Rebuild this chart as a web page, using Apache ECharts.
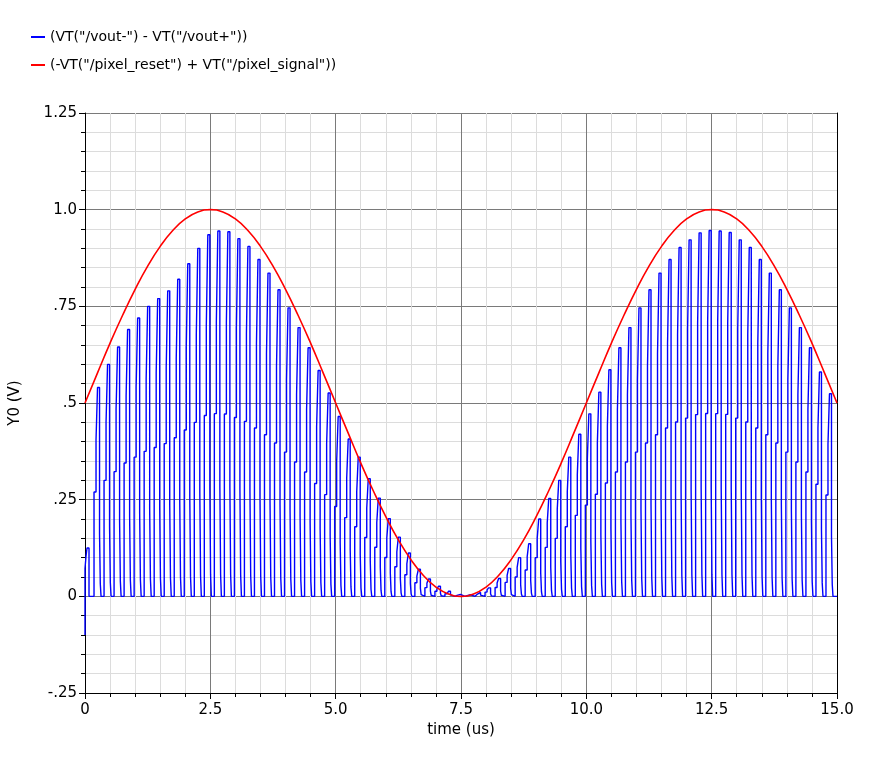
<!DOCTYPE html>
<html>
<head>
<meta charset="utf-8">
<script src="https://cdn.jsdelivr.net/npm/echarts@6/dist/echarts.min.js"></script>
<style>
html,body{margin:0;padding:0;background:#fff;}
#chart{width:877px;height:765px;}
</style>
</head>
<body>
<div id="chart"></div>
<script>
// ---- data ----
const seriesNames = ['(VT("/vout-") - VT("/vout+"))', '(-VT("/pixel_reset") + VT("/pixel_signal"))'];
const xTickLabels = ['0', '2.5', '5.0', '7.5', '10.0', '12.5', '15.0'];
const yTickValues = [-0.25, 0, 0.25, 0.5, 0.75, 1.0, 1.25];
const yTickLabels = ['-.25', '0', '.25', '.5', '.75', '1.0', '1.25'];

// red curve, sampled every 0.25 us from 0 to 15 us
const redTime = [0,0.25,0.5,0.75,1,1.25,1.5,1.75,2,2.25,2.5,2.75,3,3.25,3.5,3.75,4,4.25,4.5,4.75,5,5.25,5.5,5.75,6,6.25,6.5,6.75,7,7.25,7.5,7.75,8,8.25,8.5,8.75,9,9.25,9.5,9.75,10,10.25,10.5,10.75,11,11.25,11.5,11.75,12,12.25,12.5,12.75,13,13.25,13.5,13.75,14,14.25,14.5,14.75,15];
const redValue = [0.5,0.578,0.655,0.727,0.794,0.854,0.905,0.946,0.976,0.994,1.0,0.994,0.976,0.946,0.905,0.854,0.794,0.727,0.655,0.578,0.5,0.422,0.345,0.273,0.206,0.146,0.095,0.054,0.024,0.006,0.0,0.006,0.024,0.054,0.095,0.146,0.206,0.273,0.345,0.422,0.5,0.578,0.655,0.727,0.794,0.854,0.905,0.946,0.976,0.994,1.0,0.994,0.976,0.946,0.905,0.854,0.794,0.727,0.655,0.578,0.5];

// blue: initial transient (time, value)
const blueStart = [[0,-0.1],[0,0.072],[0.02,0.072],[0.02,0.103],[0.04,0.103],[0.04,0.125],[0.08,0.125],[0.08,0]];
// blue: pulse peak times (us) and peak values (V)
const pulseTime = [0.3,0.5,0.7,0.9,1.1,1.3,1.5,1.7,1.9,2.1,2.3,2.5,2.7,2.9,3.1,3.3,3.5,3.7,3.9,4.1,4.3,4.5,4.7,4.9,5.1,5.3,5.5,5.7,5.9,6.1,6.3,6.5,6.7,6.9,7.1,7.3,7.5,7.7,7.9,8.1,8.3,8.5,8.7,8.9,9.1,9.3,9.5,9.7,9.9,10.1,10.3,10.5,10.7,10.9,11.1,11.3,11.5,11.7,11.9,12.1,12.3,12.5,12.7,12.9,13.1,13.3,13.5,13.7,13.9,14.1,14.3,14.5,14.7,14.9];
const pulsePeak = [0.54,0.60,0.645,0.69,0.72,0.75,0.77,0.79,0.82,0.86,0.90,0.935,0.945,0.943,0.925,0.905,0.871,0.836,0.793,0.746,0.695,0.643,0.584,0.526,0.465,0.407,0.36,0.304,0.254,0.201,0.153,0.112,0.07,0.045,0.026,0.013,0.005,0.004,0.01,0.022,0.046,0.072,0.10,0.136,0.20,0.253,0.30,0.36,0.419,0.472,0.528,0.586,0.643,0.695,0.746,0.793,0.836,0.871,0.902,0.922,0.94,0.946,0.945,0.941,0.922,0.902,0.871,0.836,0.793,0.746,0.695,0.643,0.58,0.524];
// staircase shape of one pulse: [time offset from peak (us), fraction of peak]
const pulseShapeOffset = [-0.12,-0.08,-0.05,-0.01,0.005,0.02];
const pulseShapeLevel  = [0.5,0.75,1.0,0.3,0.06,0.0];

// ---- build series data ----
const blueData = blueStart.map(p => p.slice());
for (let k = 0; k < pulseTime.length; k++) {
  let prev = 0;
  for (let j = 0; j < pulseShapeOffset.length; j++) {
    const t = +(pulseTime[k] + pulseShapeOffset[j]).toFixed(4);
    const v = pulseShapeLevel[j] * pulsePeak[k];
    blueData.push([t, prev]);
    blueData.push([t, v]);
    prev = v;
  }
}
blueData.push([15, 0]);
const redData = redTime.map((t, i) => [t, redValue[i]]);

const FONT = 'DejaVu Sans';
const chart = echarts.init(document.getElementById('chart'), null, {renderer: 'canvas'});
chart.setOption({
  animation: false,
  backgroundColor: '#ffffff',
  textStyle: {fontFamily: FONT},
  legend: {
    orient: 'vertical',
    left: 26, top: 24,
    itemWidth: 14, itemHeight: 2, itemGap: 12,
    icon: 'rect',
    textStyle: {fontFamily: FONT, fontSize: 14, color: '#000', lineHeight: 16},
    data: seriesNames
  },
  grid: {left: 83, right: 40, top: 113, bottom: 72, containLabel: false},
  xAxis: {
    type: 'value', min: 0, max: 15, interval: 2.5,
    name: 'time (us)', nameLocation: 'middle', nameGap: 30,
    nameTextStyle: {fontFamily: FONT, fontSize: 15, color: '#000'},
    axisLine: {show: true, onZero: false, lineStyle: {color: '#000', width: 1}},
    axisTick: {show: true, length: 6, lineStyle: {color: '#000'}},
    minorTick: {show: true, splitNumber: 5, length: 4, lineStyle: {color: '#000'}},
    axisLabel: {fontFamily: FONT, fontSize: 15, color: '#000', margin: 10,
      formatter: v => xTickLabels[Math.round(v / 2.5)]},
    splitLine: {show: true, lineStyle: {color: '#7a7a7a', width: 1}},
    minorSplitLine: {show: true, lineStyle: {color: '#dcdcdc', width: 1}}
  },
  yAxis: [{
    type: 'value', min: -0.25, max: 1.25, interval: 0.25,
    name: 'Y0 (V)', nameLocation: 'middle', nameGap: 62, nameRotate: 90,
    nameTextStyle: {fontFamily: FONT, fontSize: 15, color: '#000'},
    axisLine: {show: true, onZero: false, lineStyle: {color: '#000', width: 1}},
    axisTick: {show: true, length: 6, lineStyle: {color: '#000'}},
    minorTick: {show: true, splitNumber: 5, length: 4, lineStyle: {color: '#000'}},
    axisLabel: {fontFamily: FONT, fontSize: 15, color: '#000', margin: 8,
      formatter: v => { const i = yTickValues.findIndex(x => Math.abs(x - v) < 1e-6); return i >= 0 ? yTickLabels[i] : ''; }},
    splitLine: {show: true, lineStyle: {color: '#7a7a7a', width: 1}},
    minorSplitLine: {show: true, lineStyle: {color: '#dcdcdc', width: 1}}
  }, {
    type: 'value', min: -0.25, max: 1.25, interval: 0.25, position: 'right',
    axisLine: {show: true, onZero: false, lineStyle: {color: '#000', width: 1}},
    axisTick: {show: false}, axisLabel: {show: false}, splitLine: {show: false}
  }],
  series: [{
    name: seriesNames[0], type: 'line', data: blueData,
    showSymbol: false, symbol: 'none', sampling: null, progressive: 0,
    lineStyle: {color: '#0000ff', width: 1.4}, itemStyle: {color: '#0000ff'}, z: 3
  }, {
    name: seriesNames[1], type: 'line', data: redData, smooth: true,
    showSymbol: false, symbol: 'none',
    lineStyle: {color: '#ff0000', width: 1.6}, itemStyle: {color: '#ff0000'}, z: 4
  }]
});
</script>
</body>
</html>
